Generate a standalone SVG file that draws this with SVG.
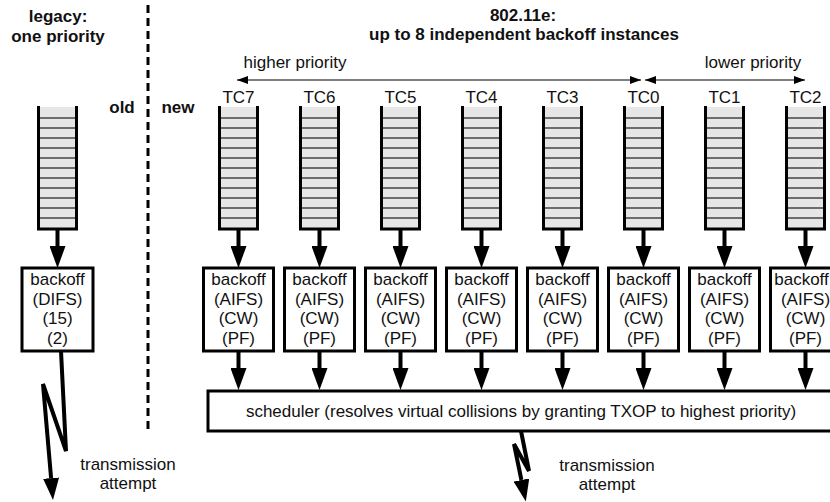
<svg xmlns="http://www.w3.org/2000/svg" xmlns:xlink="http://www.w3.org/1999/xlink" width="830" height="502" viewBox="0 0 830 502">
  <style>
    .t { font-family: "Liberation Sans", Arial, sans-serif; font-size: 17px; fill: #111; text-anchor: middle; }
    .b { font-weight: bold; }
    .box { fill: #fff; stroke: #000; stroke-width: 3; }
    .thick { fill: none; stroke: #000; stroke-width: 4; }
    .thin { fill: none; stroke: #000; stroke-width: 1.2; }
    .wall { stroke: #000; stroke-width: 3; fill: none; }
    .slot { stroke: #444; stroke-width: 1.4; }
  </style>
  <defs>
    <marker id="head" markerUnits="userSpaceOnUse" markerWidth="22" markerHeight="16" viewBox="0 0 22 16" refX="0" refY="8" orient="auto">
      <path d="M0,0 L22,8 L0,16 z" fill="#000"/>
    </marker>
    <marker id="tip" markerUnits="userSpaceOnUse" markerWidth="11" markerHeight="8" viewBox="0 0 11 8" refX="11" refY="4" orient="auto-start-reverse">
      <path d="M0,0 L11,4 L0,8 z" fill="#000"/>
    </marker>
    <!-- a FIFO queue centred on x=0 -->
    <g id="queue">
      <rect x="-19" y="107" width="38" height="122" fill="#e6e6e6"/>
      <g class="slot">
        <line x1="-19" y1="118" x2="19" y2="118"/>
        <line x1="-19" y1="128" x2="19" y2="128"/>
        <line x1="-19" y1="138" x2="19" y2="138"/>
        <line x1="-19" y1="148" x2="19" y2="148"/>
        <line x1="-19" y1="158" x2="19" y2="158"/>
        <line x1="-19" y1="168" x2="19" y2="168"/>
        <line x1="-19" y1="178" x2="19" y2="178"/>
        <line x1="-19" y1="188" x2="19" y2="188"/>
        <line x1="-19" y1="198" x2="19" y2="198"/>
        <line x1="-19" y1="208" x2="19" y2="208"/>
        <line x1="-19" y1="218" x2="19" y2="218"/>
      </g>
      <path class="wall" d="M-19,106 V229 H19 V106"/>
    </g>
  </defs>

  <!-- headings -->
  <g id="headings">
    <text class="t b" x="58" y="22">legacy:</text>
    <text class="t b" x="58" y="42">one priority</text>
    <text class="t b" x="523" y="21">802.11e:</text>
    <text class="t b" x="524" y="40">up to 8 independent backoff instances</text>
    <text class="t b" x="122" y="113">old</text>
    <text class="t b" x="178" y="113">new</text>
    <text class="t" x="295" y="68">higher priority</text>
    <text class="t" x="753" y="68">lower priority</text>
  </g>

  <!-- old / new divider -->
  <line id="divider" x1="148" y1="5" x2="148" y2="432" stroke="#000" stroke-width="3" stroke-dasharray="8 5"/>

  <!-- legacy station -->
  <g id="legacy-queue">
    <use xlink:href="#queue" transform="translate(57.5,0)"/>
  </g>
  <g id="legacy-backoff">
    <rect class="box" x="22" y="268" width="71" height="83"/>
    <text class="t" x="57.5" y="285">backoff</text>
    <text class="t" x="57.5" y="304.5">(DIFS)</text>
    <text class="t" x="57.5" y="324">(15)</text>
    <text class="t" x="57.5" y="343.5">(2)</text>
  </g>

  <!-- 802.11e traffic classes -->
  <g id="tc7">
    <text class="t" x="238.5" y="103">TC7</text>
    <use xlink:href="#queue" transform="translate(238.5,0)"/>
  </g>
  <g id="tc6">
    <text class="t" x="319.5" y="103">TC6</text>
    <use xlink:href="#queue" transform="translate(319.5,0)"/>
  </g>
  <g id="tc5">
    <text class="t" x="400.5" y="103">TC5</text>
    <use xlink:href="#queue" transform="translate(400.5,0)"/>
  </g>
  <g id="tc4">
    <text class="t" x="481.5" y="103">TC4</text>
    <use xlink:href="#queue" transform="translate(481.5,0)"/>
  </g>
  <g id="tc3">
    <text class="t" x="562.5" y="103">TC3</text>
    <use xlink:href="#queue" transform="translate(562.5,0)"/>
  </g>
  <g id="tc0">
    <text class="t" x="643.5" y="103">TC0</text>
    <use xlink:href="#queue" transform="translate(643.5,0)"/>
  </g>
  <g id="tc1">
    <text class="t" x="724.5" y="103">TC1</text>
    <use xlink:href="#queue" transform="translate(724.5,0)"/>
  </g>
  <g id="tc2">
    <text class="t" x="805.5" y="103">TC2</text>
    <use xlink:href="#queue" transform="translate(805.5,0)"/>
  </g>

  <!-- per-class backoff entities -->
  <g id="backoff-tc7">
    <rect class="box" x="203.5" y="268" width="70" height="83"/>
    <text class="t" x="238.5" y="285">backoff</text><text class="t" x="238.5" y="304.5">(AIFS)</text>
    <text class="t" x="238.5" y="324">(CW)</text><text class="t" x="238.5" y="343.5">(PF)</text>
  </g>
  <g id="backoff-tc6">
    <rect class="box" x="284.5" y="268" width="70" height="83"/>
    <text class="t" x="319.5" y="285">backoff</text><text class="t" x="319.5" y="304.5">(AIFS)</text>
    <text class="t" x="319.5" y="324">(CW)</text><text class="t" x="319.5" y="343.5">(PF)</text>
  </g>
  <g id="backoff-tc5">
    <rect class="box" x="365.5" y="268" width="70" height="83"/>
    <text class="t" x="400.5" y="285">backoff</text><text class="t" x="400.5" y="304.5">(AIFS)</text>
    <text class="t" x="400.5" y="324">(CW)</text><text class="t" x="400.5" y="343.5">(PF)</text>
  </g>
  <g id="backoff-tc4">
    <rect class="box" x="446.5" y="268" width="70" height="83"/>
    <text class="t" x="481.5" y="285">backoff</text><text class="t" x="481.5" y="304.5">(AIFS)</text>
    <text class="t" x="481.5" y="324">(CW)</text><text class="t" x="481.5" y="343.5">(PF)</text>
  </g>
  <g id="backoff-tc3">
    <rect class="box" x="527.5" y="268" width="70" height="83"/>
    <text class="t" x="562.5" y="285">backoff</text><text class="t" x="562.5" y="304.5">(AIFS)</text>
    <text class="t" x="562.5" y="324">(CW)</text><text class="t" x="562.5" y="343.5">(PF)</text>
  </g>
  <g id="backoff-tc0">
    <rect class="box" x="608.5" y="268" width="70" height="83"/>
    <text class="t" x="643.5" y="285">backoff</text><text class="t" x="643.5" y="304.5">(AIFS)</text>
    <text class="t" x="643.5" y="324">(CW)</text><text class="t" x="643.5" y="343.5">(PF)</text>
  </g>
  <g id="backoff-tc1">
    <rect class="box" x="689.5" y="268" width="70" height="83"/>
    <text class="t" x="724.5" y="285">backoff</text><text class="t" x="724.5" y="304.5">(AIFS)</text>
    <text class="t" x="724.5" y="324">(CW)</text><text class="t" x="724.5" y="343.5">(PF)</text>
  </g>
  <g id="backoff-tc2">
    <rect class="box" x="770.5" y="268" width="70" height="83"/>
    <text class="t" x="801.5" y="285">backoff</text><text class="t" x="805.5" y="304.5">(AIFS)</text>
    <text class="t" x="805.5" y="324">(CW)</text><text class="t" x="805.5" y="343.5">(PF)</text>
  </g>

  <!-- virtual collision scheduler -->
  <g id="scheduler">
    <rect class="box" x="208" y="391" width="640" height="40"/>
    <text class="t" x="521" y="417">scheduler (resolves virtual collisions by granting TXOP to highest priority)</text>
  </g>

  <!-- transmission labels -->
  <g id="tx-labels">
    <text class="t" x="128" y="470">transmission</text>
    <text class="t" x="128" y="489">attempt</text>
    <text class="t" x="607" y="471">transmission</text>
    <text class="t" x="607" y="490">attempt</text>
  </g>

  <g id="connectors">
    <!-- priority ordering -->
    <line class="thin" x1="237" y1="80" x2="641" y2="80" marker-start="url(#tip)" marker-end="url(#tip)"/>
    <line class="thin" x1="645" y1="80" x2="805" y2="80" marker-start="url(#tip)" marker-end="url(#tip)"/>

    <!-- queue to backoff -->
    <line class="thick" x1="57.5" y1="229" x2="57.5" y2="246" marker-end="url(#head)"/>
    <line class="thick" x1="238.5" y1="229" x2="238.5" y2="246" marker-end="url(#head)"/>
    <line class="thick" x1="319.5" y1="229" x2="319.5" y2="246" marker-end="url(#head)"/>
    <line class="thick" x1="400.5" y1="229" x2="400.5" y2="246" marker-end="url(#head)"/>
    <line class="thick" x1="481.5" y1="229" x2="481.5" y2="246" marker-end="url(#head)"/>
    <line class="thick" x1="562.5" y1="229" x2="562.5" y2="246" marker-end="url(#head)"/>
    <line class="thick" x1="643.5" y1="229" x2="643.5" y2="246" marker-end="url(#head)"/>
    <line class="thick" x1="724.5" y1="229" x2="724.5" y2="246" marker-end="url(#head)"/>
    <line class="thick" x1="805.5" y1="229" x2="805.5" y2="246" marker-end="url(#head)"/>

    <!-- backoff to scheduler -->
    <line class="thick" x1="238.5" y1="351" x2="238.5" y2="368" marker-end="url(#head)"/>
    <line class="thick" x1="319.5" y1="351" x2="319.5" y2="368" marker-end="url(#head)"/>
    <line class="thick" x1="400.5" y1="351" x2="400.5" y2="368" marker-end="url(#head)"/>
    <line class="thick" x1="481.5" y1="351" x2="481.5" y2="368" marker-end="url(#head)"/>
    <line class="thick" x1="562.5" y1="351" x2="562.5" y2="368" marker-end="url(#head)"/>
    <line class="thick" x1="643.5" y1="351" x2="643.5" y2="368" marker-end="url(#head)"/>
    <line class="thick" x1="724.5" y1="351" x2="724.5" y2="368" marker-end="url(#head)"/>
    <line class="thick" x1="805.5" y1="351" x2="805.5" y2="368" marker-end="url(#head)"/>

    <!-- radio transmissions -->
    <polyline class="thick" points="61,351 66,451 43,384 51.1,478.1" stroke-linejoin="miter" marker-end="url(#head)"/>
    <polyline class="thick" points="521,431 529,471 514,444 521.4,480" stroke-linejoin="miter" marker-end="url(#head)"/>
  </g>
</svg>
